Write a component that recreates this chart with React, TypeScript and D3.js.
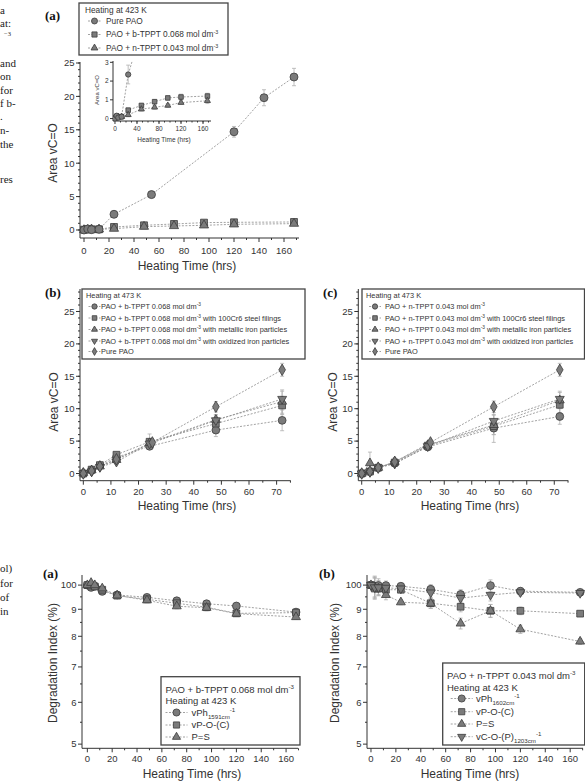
import React from 'react';
import * as d3 from 'd3';

// ---------- top panel (a): heating at 423 K ----------
const timesA = [0, 3, 6, 12, 24, 48, 72, 96, 120, 168];
const timesPureA = [0, 3, 6, 12, 24, 54, 120, 144, 168];
const purePaoA = [0, 0.15, 0.05, 0.1, 2.35, 5.3, 14.7, 19.8, 22.9];
const purePaoErrA = [0.05, 0.1, 0.1, 0.1, 0.5, 0.5, 0.8, 1.2, 1.3];
const bTpptA = [0.05, 0.1, 0.1, 0.1, 0.45, 0.7, 0.9, 1.1, 1.15, 1.2];
const bTpptErrA = [0.05, 0.05, 0.05, 0.05, 0.1, 0.1, 0.1, 0.1, 0.15, 0.15];
const nTpptA = [0, 0.05, 0.1, 0.1, 0.2, 0.5, 0.6, 0.7, 0.85, 0.95];
const nTpptErrA = [0.05, 0.05, 0.05, 0.05, 0.1, 0.1, 0.1, 0.1, 0.1, 0.15];
const legendA = ['Pure PAO', 'PAO + b-TPPT 0.068 mol dm^{-3}', 'PAO + n-TPPT 0.043 mol dm^{-3}'];

// ---------- panels (b) and (c): heating at 473 K ----------
const timesBC = [0, 3, 6, 12, 24, 48, 72];
const timesPureBC = [0, 3, 6, 12, 25, 48, 72];
const bPlain = [0, 0.5, 1.2, 2.5, 4.2, 6.7, 8.2];
const bPlainErr = [0.1, 0.2, 0.2, 0.3, 0.4, 1.0, 1.6];
const bSteel = [0, 0.6, 1.3, 2.9, 4.9, 7.7, 10.5];
const bSteelErr = [0.1, 0.2, 0.2, 0.3, 1.2, 1.0, 1.4];
const bMetal = [0.1, 0.5, 1.1, 2.1, 4.7, 8.3, 11.1];
const bMetalErr = [0.1, 0.2, 0.2, 0.3, 0.5, 0.8, 1.8];
const bOxid = [0, 0.3, 1.0, 1.8, 4.6, 8.2, 11.5];
const bOxidErr = [0.1, 0.2, 0.2, 0.3, 0.5, 0.8, 1.2];
const bPure = [0, 0.4, 1.1, 2.2, 4.8, 10.3, 16.0];
const bPureErr = [0.1, 0.2, 0.2, 0.3, 0.4, 0.8, 1.0];

const cPlain = [0, 0.3, 0.9, 1.6, 4.1, 7.0, 8.8];
const cPlainErr = [0.1, 0.2, 0.2, 0.3, 0.4, 1.0, 1.2];
const cSteel = [0, 0.3, 0.9, 1.7, 4.3, 7.3, 10.6];
const cSteelErr = [0.1, 0.2, 0.2, 0.3, 0.4, 2.5, 1.2];
const cMetal = [0, 1.6, 0.9, 1.8, 4.4, 7.5, 11.3];
const cMetalErr = [0.1, 1.7, 0.2, 0.6, 0.4, 1.5, 1.2];
const cOxid = [0, 0.3, 0.9, 1.5, 4.2, 8.1, 11.5];
const cOxidErr = [0.1, 0.2, 0.2, 0.3, 0.4, 1.0, 1.2];
const cPure = [0, 0.3, 0.9, 1.8, 4.8, 10.3, 16.0];
const cPureErr = [0.1, 0.2, 0.2, 0.3, 0.4, 0.9, 1.0];

const legendB = [
  'PAO + b-TPPT 0.068 mol dm^{-3}',
  'PAO + b-TPPT 0.068 mol dm^{-3} with 100Cr6 steel filings',
  'PAO + b-TPPT 0.068 mol dm^{-3} with metallic iron particles',
  'PAO + b-TPPT 0.068 mol dm^{-3} with oxidized iron particles',
  'Pure PAO',
];
const legendC = [
  'PAO + n-TPPT 0.043 mol dm^{-3}',
  'PAO + n-TPPT 0.043 mol dm^{-3} with 100Cr6 steel filings',
  'PAO + n-TPPT 0.043 mol dm^{-3} with metallic iron particles',
  'PAO + n-TPPT 0.043 mol dm^{-3} with oxidized iron particles',
  'Pure PAO',
];

// ---------- bottom panels: degradation index (%) ----------
const timesDeg = [0, 3, 6, 12, 24, 48, 72, 96, 120, 168];
const degPhA = [100, 99, 99.5, 97.3, 95.8, 94.8, 93.4, 92.2, 91.3, 88.9];
const degPocA = [100, 99.8, 99.4, 98, 95.5, 94, 92.4, 90.8, 88.4, 88.7];
const degPsA = [100, 101, 100, 98.6, 95.6, 93.6, 91.2, 90.6, 88.3, 87];
const degErrA = [0.5, 1.0, 0.6, 0.8, 1.0, 1.0, 1.0, 1.2, 1.0, 0.8];
const legendDegA = ['vPh_{1591cm}^{-1}', 'vP-O-(C)', 'P=S'];

const degPhB = [100, 99.5, 99.8, 99.8, 99.5, 98.2, 96, 99.8, 97.4, 96.9];
const degPocB = [100, 98.5, 98.5, 98, 98, 92.4, 91, 89.4, 89.4, 88.3];
const degPsB = [100, 99, 98.5, 95.8, 92.8, 92.3, 84.6, 89.4, 82.5, 78.2];
const degCopB = [100, 99, 99, 98.8, 98.5, 96.8, 94.5, 95.8, 96.9, 96.6];
const degErrB = [0.5, 4.5, 3.0, 2.0, 1.0, 2.0, 2.0, 2.5, 1.5, 1.0];
const legendDegB = ['vPh_{1602cm}^{-1}', 'vP-O-(C)', 'P=S', 'vC-O-(P)_{1203cm}^{-1}'];
const degTickValues = [50, 60, 70, 80, 90, 100];
const degTickLabels = ['5', '6', '7', '8', '9', '100'];

// scraps of the neighbouring page column (serif body text, cut at the edge)
const marginTop = [
  { t: 'a', y: 14 }, { t: 'at:', y: 27 }, { t: 'and', y: 67 }, { t: 'on', y: 80 },
  { t: 'for', y: 94 }, { t: 'f b-', y: 107 }, { t: '.', y: 120 }, { t: 'n-', y: 134 },
  { t: 'the', y: 148 }, { t: 'res', y: 183 },
];
const marginBottom = [{ t: 'ol)', y: 572 }, { t: 'for', y: 587 }, { t: 'of', y: 601 }, { t: 'in', y: 615 }];

const SANS = '"Liberation Sans", Arial, sans-serif';
const SERIF = '"Liberation Serif", "Times New Roman", serif';
const INK = '#333';
const FILL = '#7b7b7b';
const EDGE = '#3c3c3c';
const LINE = '#8a8a8a';
const ERR = '#b0b0b0';

type Shape = 'circle' | 'square' | 'up' | 'down' | 'diamond';
type Series = { xs: number[]; ys: number[]; errs: number[]; shape: Shape };

// triangles and diamonds look larger than circles at equal area
const shapeScale: Record<Shape, number> = { circle: 1, square: 0.95, up: 0.72, down: 0.72, diamond: 0.8 };

const symbolPath = (shape: Shape, size: number) => {
  const t = shape === 'circle' ? d3.symbolCircle
    : shape === 'square' ? d3.symbolSquare
    : shape === 'diamond' ? d3.symbolDiamond : d3.symbolTriangle;
  return d3.symbol().type(t).size(size * shapeScale[shape])() as string;
};

const Marker = ({ x, y, shape, size }: { x: number; y: number; shape: Shape; size: number }) => (
  <path
    d={symbolPath(shape, size)}
    transform={`translate(${x},${y})${shape === 'down' ? ' rotate(180)' : ''}`}
    fill={FILL}
    stroke={EDGE}
    strokeWidth={0.8}
  />
);

// "dm^{-3}" -> superscript, "_{...}" -> subscript
const parseRich = (s: string) => {
  const parts: { t: string; k?: 'sup' | 'sub' }[] = [];
  const re = /([\^_])\{([^}]*)\}/g;
  let last = 0;
  let m: RegExpExecArray | null;
  while ((m = re.exec(s))) {
    if (m.index > last) parts.push({ t: s.slice(last, m.index) });
    parts.push({ t: m[2], k: m[1] === '^' ? 'sup' : 'sub' });
    last = re.lastIndex;
  }
  if (last < s.length) parts.push({ t: s.slice(last) });
  return parts;
};

const Rich = ({ x, y, s, size }: { x: number; y: number; s: string; size: number }) => {
  let shift = 0;
  return (
    <text x={x} y={y} fontSize={size} fontFamily={SANS} fill={INK}>
      {parseRich(s).map((p, i) => {
        const target = p.k === 'sup' ? -size * 0.4 : p.k === 'sub' ? size * 0.3 : 0;
        const dy = target - shift;
        shift = target;
        return (
          <tspan key={i} dy={dy} fontSize={p.k ? size * 0.65 : size}>
            {p.t}
          </tspan>
        );
      })}
    </text>
  );
};

type PanelProps = {
  id: string;
  box: { left: number; right: number; top: number; bottom: number };
  xDomain: [number, number];
  yDomain: [number, number];
  log?: boolean;
  xTicks: number[];
  xMinor: number[];
  yTicks: number[];
  yLabels?: string[];
  yMinor: number[];
  series: Series[];
  markerSize: number;
  font: number;
  tickLen: number;
  xLabelY: number;
  xTitle?: { text: string; x: number; y: number; size: number };
  yTitle?: { text: string; x: number; y: number; size: number };
  clip?: boolean;
};

const Panel = (p: PanelProps) => {
  const { box } = p;
  const x = d3.scaleLinear().domain(p.xDomain).range([box.left, box.right]);
  const y = (p.log ? d3.scaleLog() : d3.scaleLinear()).domain(p.yDomain).range([box.bottom, box.top]);
  const line = d3.line<[number, number]>().x((d) => x(d[0])).y((d) => y(d[1]));
  const clipRef = p.clip ? `url(#${p.id})` : undefined;
  return (
    <g>
      {p.clip && (
        <clipPath id={p.id}>
          <rect x={box.left} y={box.top} width={box.right - box.left} height={box.bottom - box.top} />
        </clipPath>
      )}
      {/* axes */}
      <line x1={box.left} x2={box.right} y1={box.bottom} y2={box.bottom} stroke={INK} strokeWidth={1} />
      <line x1={box.left} x2={box.left} y1={box.top} y2={box.bottom} stroke={INK} strokeWidth={1} />
      {p.xTicks.map((t) => (
        <g key={'xt' + t}>
          <line x1={x(t)} x2={x(t)} y1={box.bottom} y2={box.bottom + p.tickLen} stroke={INK} />
          <text x={x(t)} y={p.xLabelY} fontSize={p.font} fontFamily={SANS} fill={INK} textAnchor="middle">
            {t}
          </text>
        </g>
      ))}
      {p.xMinor.map((t) => (
        <line key={'xm' + t} x1={x(t)} x2={x(t)} y1={box.bottom} y2={box.bottom + p.tickLen / 2} stroke={INK} />
      ))}
      {p.yTicks.map((t, i) => (
        <g key={'yt' + t}>
          <line x1={box.left - p.tickLen} x2={box.left} y1={y(t)} y2={y(t)} stroke={INK} />
          <text
            x={box.left - p.tickLen - 1.5}
            y={y(t)}
            dy="0.35em"
            fontSize={p.font}
            fontFamily={SANS}
            fill={INK}
            textAnchor="end"
          >
            {p.yLabels ? p.yLabels[i] : t}
          </text>
        </g>
      ))}
      {p.yMinor.map((t) => (
        <line key={'ym' + t} x1={box.left - p.tickLen / 2} x2={box.left} y1={y(t)} y2={y(t)} stroke={INK} />
      ))}
      {p.xTitle && (
        <text x={p.xTitle.x} y={p.xTitle.y} fontSize={p.xTitle.size} fontFamily={SANS} fill={INK} textAnchor="middle">
          {p.xTitle.text}
        </text>
      )}
      {p.yTitle && (
        <text
          transform={`translate(${p.yTitle.x},${p.yTitle.y}) rotate(-90)`}
          fontSize={p.yTitle.size}
          fontFamily={SANS}
          fill={INK}
          textAnchor="middle"
        >
          {p.yTitle.text}
        </text>
      )}
      {/* series */}
      <g clipPath={clipRef}>
        {p.series.map((s, si) => {
          const pts = s.xs.map((xv, i) => [xv, s.ys[i]] as [number, number]);
          return (
            <path key={'l' + si} d={line(pts) as string} fill="none" stroke={LINE} strokeWidth={0.8} strokeDasharray="2,1.5" />
          );
        })}
        {p.series.map((s, si) =>
          s.xs.map((xv, i) => {
            const e = s.errs[i];
            const cx = x(xv);
            const y1 = y(s.ys[i] + e);
            const y0 = y(s.ys[i] - e);
            return (
              <g key={`e${si}-${i}`} stroke={ERR} strokeWidth={0.8}>
                <line x1={cx} x2={cx} y1={y0} y2={y1} />
                <line x1={cx - 2} x2={cx + 2} y1={y0} y2={y0} />
                <line x1={cx - 2} x2={cx + 2} y1={y1} y2={y1} />
              </g>
            );
          })
        )}
        {p.series.map((s, si) =>
          s.xs.map((xv, i) => (
            <Marker key={`m${si}-${i}`} x={x(xv)} y={y(s.ys[i])} shape={s.shape} size={p.markerSize} />
          ))
        )}
      </g>
    </g>
  );
};

type LegendProps = {
  rect: [number, number, number, number];
  headers: { text: string; y: number }[];
  headerX: number;
  labels: string[];
  shapes: Shape[];
  rowsY: number[];
  markX: number;
  lineHalf: number;
  textX: number;
  font: number;
  markSize: number;
};

const Legend = (l: LegendProps) => (
  <g>
    <rect x={l.rect[0]} y={l.rect[1]} width={l.rect[2]} height={l.rect[3]} fill="white" stroke="#444" strokeWidth={1.3} />
    {l.headers.map((h) => (
      <Rich key={h.text} x={l.headerX} y={h.y} s={h.text} size={l.font} />
    ))}
    {l.labels.map((lab, i) => (
      <g key={lab + i}>
        <line
          x1={l.markX - l.lineHalf}
          x2={l.markX + l.lineHalf}
          y1={l.rowsY[i]}
          y2={l.rowsY[i]}
          stroke={LINE}
          strokeWidth={0.8}
          strokeDasharray="2,1.5"
        />
        <Marker x={l.markX} y={l.rowsY[i]} shape={l.shapes[i]} size={l.markSize} />
        <Rich x={l.textX} y={l.rowsY[i] + l.font * 0.35} s={lab} size={l.font} />
      </g>
    ))}
  </g>
);

const range = (a: number, b: number, s: number) => d3.range(a, b + 1e-9, s);

export default function App() {
  const seriesA: Series[] = [
    { xs: timesA, ys: bTpptA, errs: bTpptErrA, shape: 'square' },
    { xs: timesA, ys: nTpptA, errs: nTpptErrA, shape: 'up' },
    { xs: timesPureA, ys: purePaoA, errs: purePaoErrA, shape: 'circle' },
  ];
  const mkBC = (v: number[][], e: number[][]): Series[] => [
    { xs: timesBC, ys: v[0], errs: e[0], shape: 'circle' },
    { xs: timesBC, ys: v[1], errs: e[1], shape: 'square' },
    { xs: timesBC, ys: v[2], errs: e[2], shape: 'up' },
    { xs: timesBC, ys: v[3], errs: e[3], shape: 'down' },
    { xs: timesPureBC, ys: v[4], errs: e[4], shape: 'diamond' },
  ];
  const seriesB = mkBC([bPlain, bSteel, bMetal, bOxid, bPure], [bPlainErr, bSteelErr, bMetalErr, bOxidErr, bPureErr]);
  const seriesC = mkBC([cPlain, cSteel, cMetal, cOxid, cPure], [cPlainErr, cSteelErr, cMetalErr, cOxidErr, cPureErr]);
  const seriesDA: Series[] = [
    { xs: timesDeg, ys: degPhA, errs: degErrA, shape: 'circle' },
    { xs: timesDeg, ys: degPocA, errs: degErrA, shape: 'square' },
    { xs: timesDeg, ys: degPsA, errs: degErrA, shape: 'up' },
  ];
  const seriesDB: Series[] = [
    { xs: timesDeg, ys: degPhB, errs: degErrB, shape: 'circle' },
    { xs: timesDeg, ys: degPocB, errs: degErrB, shape: 'square' },
    { xs: timesDeg, ys: degPsB, errs: degErrB, shape: 'up' },
    { xs: timesDeg, ys: degCopB, errs: degErrB, shape: 'down' },
  ];
  const bcShapes: Shape[] = ['circle', 'square', 'up', 'down', 'diamond'];
  const bcRows = [306.5, 318, 329.5, 341, 351.5];
  const degMinor = [55, 65, 75, 85, 95];

  return (
    <svg width={585} height={782} style={{ position: 'absolute', left: 0, top: 0, background: 'white' }}>
      <rect width={585} height={782} fill="white" />
      {/* neighbouring column text */}
      {marginTop.map((m) => (
        <text key={'mt' + m.y} x={0} y={m.y} fontSize={11} fontFamily={SERIF} fill="#222">
          {m.t}
        </text>
      ))}
      <text x={4} y={36} fontSize={6.5} fontFamily={SERIF} fill="#222">−3</text>
      {marginBottom.map((m) => (
        <text key={'mb' + m.y} x={0} y={m.y} fontSize={11} fontFamily={SERIF} fill="#222">
          {m.t}
        </text>
      ))}

      {/* panel labels */}
      {[
        { t: '(a)', x: 45, y: 20 },
        { t: '(b)', x: 45, y: 297 },
        { t: '(c)', x: 323, y: 297 },
        { t: '(a)', x: 43, y: 578 },
        { t: '(b)', x: 319, y: 578 },
      ].map((l) => (
        <text key={l.t + l.y + l.x} x={l.x} y={l.y} fontSize={13} fontWeight="bold" fontFamily={SERIF} fill="#111">
          {l.t}
        </text>
      ))}

      {/* (a) main */}
      <Panel
        id="pa"
        box={{ left: 80, right: 299, top: 62, bottom: 238 }}
        xDomain={[-3.2, 172]}
        yDomain={[-1.2, 25.15]}
        xTicks={range(0, 160, 20)}
        xMinor={range(10, 170, 20)}
        yTicks={range(0, 25, 5)}
        yMinor={range(0, 25, 1)}
        series={seriesA}
        markerSize={50}
        font={9.5}
        tickLen={4}
        xLabelY={253.5}
        xTitle={{ text: 'Heating Time (hrs)', x: 187, y: 270, size: 12 }}
        yTitle={{ text: 'Area vC=O', x: 57, y: 153, size: 12 }}
      />
      {/* (a) inset */}
      <Panel
        id="pinset"
        box={{ left: 113, right: 211, top: 61, bottom: 121 }}
        xDomain={[-3.6, 174.5]}
        yDomain={[-0.13, 3.07]}
        xTicks={range(0, 160, 40)}
        xMinor={range(10, 170, 10)}
        yTicks={range(0, 3, 1)}
        yMinor={[]}
        series={seriesA}
        markerSize={22}
        font={6.5}
        tickLen={3}
        xLabelY={131}
        xTitle={{ text: 'Heating Time (hrs)', x: 164, y: 142, size: 6.5 }}
        yTitle={{ text: 'Area vC=O', x: 99, y: 90, size: 6 }}
        clip
      />
      <Legend
        rect={[79, 3, 149, 52]}
        headers={[{ text: 'Heating at 423 K', y: 12.5 }]}
        headerX={85}
        labels={legendA}
        shapes={['circle', 'square', 'up']}
        rowsY={[21, 34.5, 48]}
        markX={94.5}
        lineHalf={6.5}
        textX={106}
        font={8.3}
        markSize={28}
      />

      {/* (b) */}
      <Panel
        id="pb"
        box={{ left: 80, right: 290.7, top: 289, bottom: 480.7 }}
        xDomain={[-1.2, 75.1]}
        yDomain={[-1.11, 28.47]}
        xTicks={range(0, 70, 10)}
        xMinor={range(5, 75, 10)}
        yTicks={range(0, 25, 5)}
        yMinor={range(0, 28, 1)}
        series={seriesB}
        markerSize={48}
        font={9.5}
        tickLen={4}
        xLabelY={495}
        xTitle={{ text: 'Heating Time (hrs)', x: 187, y: 510, size: 12 }}
        yTitle={{ text: 'Area vC=O', x: 58, y: 402, size: 12 }}
      />
      <Legend
        rect={[82, 289, 223, 70]}
        headers={[{ text: 'Heating at 473 K', y: 298 }]}
        headerX={86}
        labels={legendB}
        shapes={bcShapes}
        rowsY={bcRows}
        markX={94.5}
        lineHalf={6}
        textX={101}
        font={7.4}
        markSize={22}
      />

      {/* (c) */}
      <Panel
        id="pc"
        box={{ left: 358.3, right: 568.3, top: 289, bottom: 480.7 }}
        xDomain={[-1.24, 75.1]}
        yDomain={[-1.11, 28.47]}
        xTicks={range(0, 70, 10)}
        xMinor={range(5, 75, 10)}
        yTicks={range(0, 25, 5)}
        yMinor={range(0, 28, 1)}
        series={seriesC}
        markerSize={48}
        font={9.5}
        tickLen={4}
        xLabelY={495}
        xTitle={{ text: 'Heating Time (hrs)', x: 470, y: 510, size: 12 }}
        yTitle={{ text: 'Area vC=O', x: 337, y: 402, size: 12 }}
      />
      <Legend
        rect={[362, 289, 222.5, 70]}
        headers={[{ text: 'Heating at 473 K', y: 298 }]}
        headerX={366}
        labels={legendC}
        shapes={bcShapes}
        rowsY={bcRows}
        markX={375}
        lineHalf={6}
        textX={385}
        font={7.4}
        markSize={22}
      />

      {/* bottom (a) */}
      <Panel
        id="pda"
        box={{ left: 82, right: 298, top: 575, bottom: 748.3 }}
        xDomain={[-4.3, 169.6]}
        yDomain={[49.1, 104.5]}
        log
        xTicks={range(0, 160, 20)}
        xMinor={range(10, 170, 20)}
        yTicks={degTickValues}
        yLabels={degTickLabels}
        yMinor={degMinor}
        series={seriesDA}
        markerSize={48}
        font={9.5}
        tickLen={4}
        xLabelY={762}
        xTitle={{ text: 'Heating Time (hrs)', x: 192, y: 777.5, size: 12 }}
        yTitle={{ text: 'Degradation Index (%)', x: 57, y: 663, size: 12 }}
      />
      <Legend
        rect={[161, 676.7, 139, 68.3]}
        headers={[
          { text: 'PAO + b-TPPT 0.068 mol dm^{-3}', y: 693 },
          { text: 'Heating at 423 K', y: 704 },
        ]}
        headerX={165.5}
        labels={legendDegA}
        shapes={['circle', 'square', 'up']}
        rowsY={[712.5, 725, 737]}
        markX={176.5}
        lineHalf={11}
        textX={191.5}
        font={9.5}
        markSize={40}
      />

      {/* bottom (b) */}
      <Panel
        id="pdb"
        box={{ left: 367, right: 583, top: 575, bottom: 748.3 }}
        xDomain={[-3.2, 170.3]}
        yDomain={[49.1, 104.5]}
        log
        xTicks={range(0, 160, 20)}
        xMinor={range(10, 170, 20)}
        yTicks={degTickValues}
        yLabels={degTickLabels}
        yMinor={degMinor}
        series={seriesDB}
        markerSize={48}
        font={9.5}
        tickLen={4}
        xLabelY={762}
        xTitle={{ text: 'Heating Time (hrs)', x: 470, y: 777.5, size: 12 }}
        yTitle={{ text: 'Degradation Index (%)', x: 339, y: 663, size: 12 }}
      />
      <Legend
        rect={[442.7, 663, 142, 82]}
        headers={[
          { text: 'PAO + n-TPPT 0.043 mol dm^{-3}', y: 678.5 },
          { text: 'Heating at 423 K', y: 690.5 },
        ]}
        headerX={447}
        labels={legendDegB}
        shapes={['circle', 'square', 'up', 'down']}
        rowsY={[698.5, 711.7, 724, 736.7]}
        markX={461.7}
        lineHalf={11}
        textX={476}
        font={9.5}
        markSize={40}
      />
    </svg>
  );
}
